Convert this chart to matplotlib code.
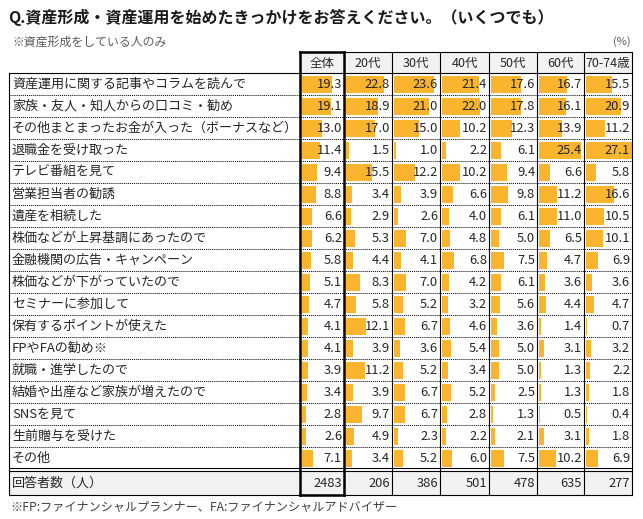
import matplotlib
matplotlib.use("Agg")
import matplotlib.pyplot as plt

plt.rcParams["font.family"] = ["Noto Sans CJK JP", "DejaVu Sans"]

TITLE = "Q.資産形成・資産運用を始めたきっかけをお答えください。（いくつでも）"
NOTE_TOP = "※資産形成をしている人のみ"
NOTE_BOTTOM = "※FP:ファイナンシャルプランナー、FA:ファイナンシャルアドバイザー"
COUNT_LABEL = "回答者数（人）"

reasons = [
    "資産運用に関する記事やコラムを読んで",
    "家族・友人・知人からの口コミ・勧め",
    "その他まとまったお金が入った（ボーナスなど）",
    "退職金を受け取った",
    "テレビ番組を見て",
    "営業担当者の勧誘",
    "遺産を相続した",
    "株価などが上昇基調にあったので",
    "金融機関の広告・キャンペーン",
    "株価などが下がっていたので",
    "セミナーに参加して",
    "保有するポイントが使えた",
    "FPやFAの勧め※",
    "就職・進学したので",
    "結婚や出産など家族が増えたので",
    "SNSを見て",
    "生前贈与を受けた",
    "その他",
]

groups = ["全体", "20代", "30代", "40代", "50代", "60代", "70-74歳"]

total = [19.3, 19.1, 13.0, 11.4, 9.4, 8.8, 6.6, 6.2, 5.8, 5.1, 4.7, 4.1, 4.1, 3.9, 3.4, 2.8, 2.6, 7.1]
age20 = [22.8, 18.9, 17.0, 1.5, 15.5, 3.4, 2.9, 5.3, 4.4, 8.3, 5.8, 12.1, 3.9, 11.2, 3.9, 9.7, 4.9, 3.4]
age30 = [23.6, 21.0, 15.0, 1.0, 12.2, 3.9, 2.6, 7.0, 4.1, 7.0, 5.2, 6.7, 3.6, 5.2, 6.7, 6.7, 2.3, 5.2]
age40 = [21.4, 22.0, 10.2, 2.2, 10.2, 6.6, 4.0, 4.8, 6.8, 4.2, 3.2, 4.6, 5.4, 3.4, 5.2, 2.8, 2.2, 6.0]
age50 = [17.6, 17.8, 12.3, 6.1, 9.4, 9.8, 6.1, 5.0, 7.5, 6.1, 5.6, 3.6, 5.0, 5.0, 2.5, 1.3, 2.1, 7.5]
age60 = [16.7, 16.1, 13.9, 25.4, 6.6, 11.2, 11.0, 6.5, 4.7, 3.6, 4.4, 1.4, 3.1, 1.3, 1.3, 0.5, 3.1, 10.2]
age70 = [15.5, 20.9, 11.2, 27.1, 5.8, 16.6, 10.5, 10.1, 6.9, 3.6, 4.7, 0.7, 3.2, 2.2, 1.8, 0.4, 1.8, 6.9]

respondents = [2483, 206, 386, 501, 478, 635, 277]

columns = [total, age20, age30, age40, age50, age60, age70]

# layout in pixel units
W, H = 643, 519
LABEL_LEFT = 9
COL_EDGES = [300, 344, 392, 440, 489, 537, 584, 632]
HEAD_TOP, HEAD_BOT = 52, 73
ROW_H = 22
COUNT_TOP, COUNT_BOT = 471, 495
BAR_COLOR = "#FBB42E"
GRAY_BG = "#F2F2F2"
TEXT = "#262626"

fig = plt.figure(figsize=(W / 100, H / 100), dpi=100)
ax = fig.add_axes([0, 0, 1, 1])
ax.set_xlim(0, W)
ax.set_ylim(H, 0)
ax.axis("off")

ax.text(8, 17, TITLE, fontsize=11.5, fontweight="bold", color="#1a1a1a",
        va="center", ha="left")
ax.text(12, 42, NOTE_TOP, fontsize=8.6, color="#595959", va="center")
ax.text(631, 42, "(%)", fontsize=8, color="#595959", va="center", ha="right")

# header cells
ax.fill_between([COL_EDGES[0], COL_EDGES[-1]], HEAD_TOP, HEAD_BOT,
                color=GRAY_BG, lw=0, zorder=0)
for j, g in enumerate(groups):
    cx = (COL_EDGES[j] + COL_EDGES[j + 1]) / 2
    ax.text(cx, (HEAD_TOP + HEAD_BOT) / 2 + 1, g, fontsize=9, color=TEXT,
            ha="center", va="center")

# data rows with in-cell bars
n = len(reasons)
row_tops = [HEAD_BOT + i * ROW_H for i in range(n)]
for i, label in enumerate(reasons):
    top = row_tops[i]
    ax.text(LABEL_LEFT + 3, top + ROW_H / 2 + 0.5, label, fontsize=9.4,
            color=TEXT, va="center", ha="left")
for j, vals in enumerate(columns):
    left, right = COL_EDGES[j], COL_EDGES[j + 1]
    scale = (right - left) / 28.5
    ax.barh([t + ROW_H / 2 for t in row_tops], [v * scale for v in vals],
            left=left + 2, height=ROW_H - 5, color=BAR_COLOR, lw=0, zorder=1)
    for i, v in enumerate(vals):
        ax.text(right - 2, row_tops[i] + ROW_H / 2 + 0.5, f"{v:.1f}",
                fontsize=9.3, color=TEXT, ha="right", va="center", zorder=3)

# respondent row
ax.fill_between([LABEL_LEFT, COL_EDGES[-1]], COUNT_TOP, COUNT_BOT,
                color=GRAY_BG, lw=0, zorder=0)
ax.text(LABEL_LEFT + 3, (COUNT_TOP + COUNT_BOT) / 2 + 0.5, COUNT_LABEL,
        fontsize=9.4, color=TEXT, va="center")
for j, c in enumerate(respondents):
    ax.text(COL_EDGES[j + 1] - 2, (COUNT_TOP + COUNT_BOT) / 2 + 0.5, str(c),
            fontsize=9.3, color=TEXT, ha="right", va="center")

ax.text(10, 507, NOTE_BOTTOM, fontsize=8.7, color="#404040", va="center")

# grid lines
thin, thick = 0.8, 1.8
data_bot = HEAD_BOT + n * ROW_H
for t in row_tops[1:]:
    ax.plot([LABEL_LEFT, COL_EDGES[-1]], [t, t], color="black", lw=0.7,
            ls=(0, (1, 1)), zorder=4)
ax.plot([COL_EDGES[0], COL_EDGES[-1]], [HEAD_TOP, HEAD_TOP], color="black", lw=thin, zorder=4)
ax.plot([LABEL_LEFT, COL_EDGES[-1]], [HEAD_BOT, HEAD_BOT], color="black", lw=thin, zorder=4)
ax.plot([LABEL_LEFT, COL_EDGES[-1]], [data_bot - 1, data_bot - 1], color="black", lw=thin, zorder=4)
ax.plot([LABEL_LEFT, COL_EDGES[-1]], [COUNT_TOP, COUNT_TOP], color="black", lw=thin, zorder=4)
ax.plot([LABEL_LEFT, COL_EDGES[-1]], [COUNT_BOT, COUNT_BOT], color="black", lw=thin, zorder=4)
ax.plot([LABEL_LEFT, LABEL_LEFT], [HEAD_BOT, COUNT_BOT], color="black", lw=thin, zorder=4)
for k, x in enumerate(COL_EDGES):
    lw = thick if k in (0, 1) else thin
    ax.plot([x, x], [HEAD_TOP, COUNT_BOT], color="black", lw=lw, zorder=5)
# thick frame around the total column
ax.plot([COL_EDGES[0], COL_EDGES[1]], [HEAD_TOP, HEAD_TOP], color="black", lw=thick, zorder=5)
ax.plot([COL_EDGES[0], COL_EDGES[1]], [COUNT_BOT, COUNT_BOT], color="black", lw=thick, zorder=5)

fig.savefig("out.png", dpi=100)
